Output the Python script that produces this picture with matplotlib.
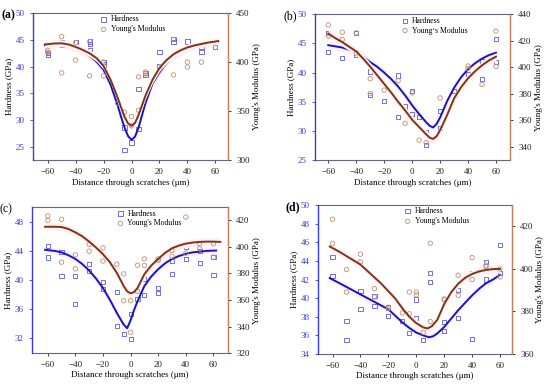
import matplotlib
matplotlib.use("Agg")
import matplotlib.pyplot as plt

plt.rcParams['font.family'] = ['Liberation Serif', 'DejaVu Serif']
plt.rcParams['font.size'] = 6.5

# ---- panel (a) ----
a_h_x = [-60, -60, -50, -50, -40, -40, -30, -30, -30, -20, -20, -5, -5, 0, 5, 5, 10, 10, 20, 20, 30, 30, 40, 50, 50, 60]
a_h = [42.5, 42.1, 44.6, 44.0, 44.5, 43.7, 44.7, 44.2, 43.1, 40.8, 40.4, 28.6, 24.4, 25.8, 35.8, 28.4, 38.8, 38.4, 42.8, 40.1, 45.1, 44.6, 44.7, 43.6, 42.8, 43.7]
a_e_x = [-60, -60, -50, -50, -40, -40, -30, -30, -20, -20, -10, -5, 0, 0, 5, 5, 10, 10, 20, 30, 30, 40, 40, 50, 60]
a_e = [412, 410, 426, 389, 420, 402, 421, 386, 400, 386, 358, 349, 344.5, 335, 385, 351, 390, 388, 395, 423, 387, 400, 395, 400, 415]
a_hfit_x = [-62, -55, -50, -45, -40, -35, -30, -25, -20, -15, -10, -7.5, -5, -2.5, 0, 2.5, 5, 7.5, 10, 15, 20, 25, 30, 35, 40, 45, 50, 55, 60, 62]
a_hfit = [44.0, 44.2, 44.2, 44.0, 43.4, 42.8, 42.0, 40.9, 39.4, 36.6, 32.8, 30.6, 28.6, 27.0, 26.3, 26.9, 28.6, 30.9, 33.2, 36.8, 38.9, 40.6, 41.9, 42.8, 43.3, 43.8, 44.1, 44.4, 44.6, 44.7]
a_efit_x = a_hfit_x
a_efit = [418, 419, 419.2, 418, 415.5, 412.5, 409, 404, 396, 382, 364, 354, 344, 337.5, 335, 338, 346, 356, 366, 382, 394, 402, 408, 412, 415, 417, 418.5, 420, 421, 421.5]

# ---- panel (b) ----
b_h_x = [-60, -60, -50, -40, -40, -30, -30, -20, -10, -10, -5, 0, 0, 5, 10, 10, 20, 20, 30, 40, 50, 50, 60, 60]
b_h = [46.8, 43.5, 42.5, 46.8, 43.0, 40.2, 36.2, 35.1, 39.5, 32.4, 34.2, 36.9, 32.9, 32.4, 29.8, 27.6, 33.4, 30.5, 36.9, 39.7, 41.9, 38.9, 45.8, 41.8]
b_e_x = [-60, -60, -50, -50, -40, -40, -30, -30, -20, -10, -5, 0, 5, 10, 20, 40, 40, 50, 60, 60]
b_e = [431.9, 423.5, 426.5, 421, 426, 410.7, 391.4, 380.2, 382.8, 389.9, 357.8, 380.7, 345.1, 343.3, 376.9, 401, 399, 387, 427.3, 400.6]
b_hfit_x = [-60, -55, -50, -45, -40, -35, -30, -25, -20, -15, -10, -5, 0, 5, 10, 12.5, 15, 17.5, 20, 25, 30, 35, 40, 45, 50, 55, 60]
b_hfit = [44.7, 44.5, 44.3, 43.9, 43.5, 42.7, 41.8, 41.0, 40.0, 38.9, 37.6, 36.1, 34.4, 32.9, 31.5, 30.9, 30.6, 31.2, 32.3, 35.1, 37.4, 39.2, 40.6, 41.6, 42.4, 43.0, 43.4]
b_efit_x = b_hfit_x
b_efit = [425.5, 422, 419, 415.5, 412, 406.5, 400.5, 394, 387.5, 381, 374, 367.5, 360.5, 355, 349.5, 347, 346, 348, 352.5, 364, 376.5, 385, 391.7, 397, 401.5, 405.2, 408]

# ---- panel (c) ----
c_h_x = [-60, -60, -50, -50, -40, -40, -30, -30, -20, -20, -10, -10, -5, 0, 0, 5, 10, 10, 20, 20, 30, 30, 40, 40, 50, 50, 60, 60]
c_h = [44.7, 43.1, 43.8, 40.6, 40.6, 36.7, 42.2, 41.2, 39.7, 38.8, 38.4, 33.7, 32.6, 35.4, 31.9, 37.4, 40.1, 38.0, 38.9, 38.2, 40.8, 42.6, 44.5, 42.9, 44.0, 42.3, 43.2, 40.7]
c_e_x = [-60, -60, -50, -50, -40, -40, -30, -30, -20, -20, -10, -5, -5, 0, 0, 5, 5, 10, 10, 20, 20, 30, 30, 40, 40, 50, 50, 60, 60]
c_e = [423.3, 420, 420.8, 388.5, 394, 383.5, 401.9, 396.8, 399.3, 389.3, 387, 379.7, 359.5, 359.5, 335.6, 386.2, 366.6, 391, 386, 391, 389.8, 397.3, 393, 422.5, 395.3, 402.4, 398.6, 402.4, 392.3]
c_hfit_x = [-62, -55, -50, -45, -40, -35, -30, -25, -20, -15, -10, -5, -2.5, 0, 2.5, 5, 10, 15, 20, 25, 30, 35, 40, 45, 50, 55, 62]
c_hfit = [44.15, 44.0, 43.8, 43.4, 42.9, 42.2, 41.3, 40.2, 38.9, 37.3, 35.5, 33.9, 33.4, 34.5, 35.9, 37.1, 39.2, 40.5, 41.5, 42.3, 42.9, 43.3, 43.6, 43.8, 43.9, 44.0, 44.05]
c_efit_x = [-62, -55, -50, -45, -40, -35, -30, -25, -20, -15, -10, -5, -2.5, 0, 2.5, 5, 10, 15, 20, 25, 30, 35, 40, 45, 50, 55, 60, 65]
c_efit = [415.2, 415.2, 415, 413.5, 411, 408, 404, 399.5, 394.5, 388.5, 380.5, 370.5, 366.5, 365, 366, 369, 379.5, 386, 391, 395.5, 399, 401, 402.5, 403.3, 403.8, 404, 404, 403.8]

# ---- panel (d) ----
d_h_x = [-60, -60, -50, -50, -40, -40, -30, -30, -20, -20, -10, -5, 0, 0, 5, 10, 10, 20, 20, 30, 30, 40, 40, 50, 50, 60, 60]
d_h = [44.4, 42.4, 37.5, 35.5, 40.8, 38.8, 40.2, 39.2, 39.0, 38.1, 37.5, 36.3, 39.85, 37.85, 35.5, 42.7, 41.7, 37.4, 36.5, 40.9, 37.9, 42.65, 35.6, 43.9, 42.0, 45.7, 42.7]
d_e_x = [-60, -60, -50, -50, -40, -40, -30, -30, -20, -20, -10, -5, -5, 0, 0, 5, 10, 10, 20, 20, 30, 30, 40, 40, 50, 50, 60, 60]
d_e = [423.3, 412, 399.7, 389.1, 406.9, 403.3, 390.7, 386.8, 382, 381.4, 379.3, 389.1, 378.9, 389.1, 387.8, 370.2, 412, 375.3, 385.9, 385.4, 397, 387.5, 405.3, 395, 401.7, 401, 400, 396.2]
d_hfit_x = [-62, -55, -50, -45, -40, -35, -30, -25, -20, -15, -10, -5, 0, 5, 9, 12, 15, 20, 25, 30, 35, 40, 45, 50, 55, 60]
d_hfit = [42.15, 41.6, 41.2, 40.8, 40.4, 40.0, 39.6, 39.2, 38.8, 38.1, 37.4, 36.8, 36.3, 36.0, 35.8, 35.9, 36.2, 36.9, 37.8, 38.7, 39.5, 40.3, 41.0, 41.6, 42.0, 42.5]
d_efit_x = [-62, -55, -50, -45, -40, -35, -30, -25, -20, -15, -10, -5, 0, 5, 8, 11, 15, 20, 25, 30, 35, 40, 45, 50, 55, 60]
d_efit = [410.5, 408, 406, 404, 402, 399, 396, 393, 389.5, 386, 381.5, 377.5, 374.5, 372.5, 372, 373, 376, 383.5, 389, 393, 395.8, 397.6, 398.8, 399.5, 399.9, 400]

xticks = [-60, -40, -20, 0, 20, 40, 60]

BLUE = '#1414c8'
BROWN = '#7d3512'
SQ = '#5a5ae6'
CIRC = '#c09070'
BAND = '#fff0f6'


def panel(rect, letter, bold, hx, h, ex, e, hfx, hf, efx, ef,
          xlim, hlim, hticks, elim, eticks, hband, eband, leg_x, ylab_e="Young's Modulus"):
    ax = fig.add_axes(rect)
    ax2 = ax.twinx()

    # faint confidence bands
    ax.fill_between(hfx, [v - hband for v in hf], [v + hband for v in hf],
                    color=BAND, lw=0, zorder=0)
    ax2.fill_between(efx, [v - eband for v in ef], [v + eband for v in ef],
                     color=BAND, lw=0, zorder=0)

    sh = ax.scatter(hx, h, marker='s', s=9, facecolors='none', edgecolors=SQ,
                    linewidths=0.6, zorder=3, label='Hardness')
    se = ax2.scatter(ex, e, marker='o', s=10, facecolors='none', edgecolors=CIRC,
                     linewidths=0.6, zorder=3, label=ylab_e)
    ax2.plot(efx, ef, color=BROWN, lw=1.4, zorder=4)
    ax.plot(hfx, hf, color=BLUE, lw=1.4, zorder=4)

    ax.set_xlim(*xlim)
    ax.set_ylim(*hlim)
    ax2.set_ylim(*elim)
    ax.set_xticks(xticks)
    ax.set_yticks(hticks)
    ax2.set_yticks(eticks)

    ax.tick_params(axis='y', colors='#3a3ad8', labelsize=6.5, length=2.5, width=0.6)
    ax.tick_params(axis='x', labelsize=6.5, length=2.5, width=0.6, colors='#222222')
    ax2.tick_params(axis='y', labelsize=6.5, length=2.5, width=0.6, colors='#222222')

    for s in ['top', 'bottom']:
        ax.spines[s].set_color('#666680')
        ax.spines[s].set_linewidth(0.8)
    ax2.spines['left'].set_color('#3a3ae6')
    ax2.spines['left'].set_linewidth(0.9)
    ax2.spines['right'].set_color('#c08060')
    ax2.spines['right'].set_linewidth(0.9)
    ax2.spines['top'].set_visible(False)
    ax2.spines['bottom'].set_visible(False)

    ax.set_xlabel('Distance through scratches (\u03bcm)', fontsize=6.5, labelpad=1.5)
    ax.set_ylabel('Hardness (GPa)', fontsize=6.5, labelpad=2)
    ax2.set_ylabel("Young's Modulus (GPa)", fontsize=6.5, labelpad=2)

    ax2.legend(handles=[sh, se], loc='upper left', bbox_to_anchor=(leg_x, 1.005),
               frameon=False, fontsize=5.6, handlelength=0.8, handletextpad=0.5,
               labelspacing=0.25, borderaxespad=0.2, borderpad=0.2, markerscale=1.0)

    fig.text(rect[0] - 0.058, rect[1] + rect[3] - 0.005, letter, fontsize=8.5,
             fontweight='bold' if bold else 'normal', va='center', ha='left')
    return ax, ax2


fig = plt.figure(figsize=(5.5, 3.85), dpi=100)

panel([0.060, 0.584, 0.3545, 0.382], '(a)', True,
      a_h_x, a_h, a_e_x, a_e, a_hfit_x, a_hfit, a_efit_x, a_efit,
      (-70.5, 69), (22.5, 50), [25, 30, 35, 40, 45, 50], (300, 450), [300, 350, 400, 450],
      0.7, 3.5, 0.33)

panel([0.5727, 0.584, 0.3545, 0.379], '(b)', False,
      b_h_x, b_h, b_e_x, b_e, b_hfit_x, b_hfit, b_efit_x, b_efit,
      (-69.5, 70), (25, 50), [25, 30, 35, 40, 45, 50], (330, 440), [340, 360, 380, 400, 420, 440],
      0.7, 3.0, 0.43, ylab_e="Young\u2018s Modulus")

panel([0.058, 0.083, 0.3564, 0.379], '(c)', False,
      c_h_x, c_h, c_e_x, c_e, c_hfit_x, c_hfit, c_efit_x, c_efit,
      (-71.5, 70.5), (30, 50), [32, 36, 40, 44, 48], (320, 430), [320, 340, 360, 380, 400, 420],
      0.5, 3.0, 0.42)

panel([0.578, 0.0805, 0.3527, 0.387], '(d)', True,
      d_h_x, d_h, d_e_x, d_e, d_hfit_x, d_hfit, d_efit_x, d_efit,
      (-70.5, 68.5), (34, 50), [34, 36, 38, 40, 42, 44, 46, 48, 50], (360, 430), [360, 380, 400, 420],
      0.4, 1.8, 0.43)

fig.savefig('out.png', dpi=100)
